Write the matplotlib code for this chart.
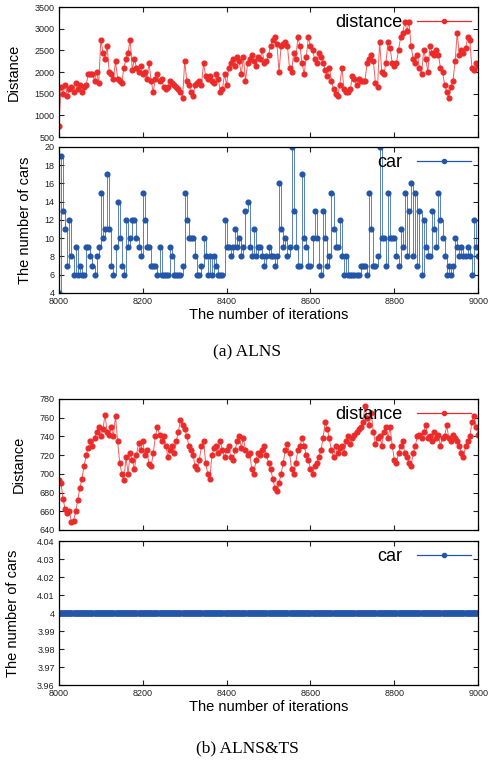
#Convergence plots of ALNS and ALNS&TS, iterations 8000-9000
#distance and number of cars, values read every 5 iterations

import numpy as np
import matplotlib
matplotlib.use('Agg')
import matplotlib.pyplot as plt
from matplotlib.ticker import FuncFormatter

iterations = np.arange(8000, 9001, 5)

distALNS = [750, 1650, 1500, 1700, 1450, 1600, 1650, 1550, 1750, 1600,
            1700, 1550, 1650, 1700, 1950, 1950, 1950, 1800, 2000, 1750,
            2750, 2450, 2300, 2600, 2000, 1950, 1850, 2250, 1850, 1800,
            1750, 2100, 2300, 2450, 2750, 2050, 2300, 2100, 2000, 2150,
            1950, 2000, 1850, 2200, 1800, 1530, 1850, 1950, 1800, 1850,
            1650, 1600, 1650, 1800, 1750, 1700, 1650, 1600, 1550, 1400,
            2250, 1800, 1700, 1550, 1450, 1700, 1750, 1800, 1700, 2200,
            1900, 1850, 1900, 1800, 1750, 1950, 1850, 1550, 1600, 1950,
            1700, 2100, 2200, 2300, 2150, 2350, 2250, 1950, 2350, 1800,
            2200, 2300, 2400, 2250, 2150, 2350, 2300, 2500, 2200, 2250,
            2400, 2600, 2750, 2800, 2650, 2000, 2600, 2650, 2700, 2600,
            2100, 2000, 2450, 2300, 2800, 2600, 2200, 1950, 2350, 2800,
            2600, 2500, 2300, 2200, 2450, 2350, 2200, 2050, 1900, 2100,
            1800, 1600, 1500, 1450, 1700, 2100, 1600, 1550, 1550, 1600,
            1900, 1850, 1700, 1850, 1800, 1800, 1800, 2200, 2300, 2400,
            2250, 1750, 1650, 2700, 2000, 1950, 2200, 2700, 2550, 2200,
            2150, 2200, 2500, 2800, 2900, 3150, 2950, 3150, 2600, 2300,
            2200, 2400, 2100, 1950, 2500, 2300, 2000, 2600, 2450, 2400,
            2500, 2400, 2100, 2000, 1700, 1550, 1400, 1650, 1800, 2250,
            2900, 2400, 2500, 2450, 2550, 2800, 2750, 2100, 2050, 2200,
            2150]

carsALNS = [4, 19, 13, 11, 7, 12, 8, 6, 9, 6,
            7, 6, 6, 9, 9, 8, 7, 6, 8, 9,
            15, 10, 11, 17, 11, 7, 6, 9, 14, 10,
            7, 6, 12, 9, 10, 12, 12, 10, 9, 8,
            15, 12, 9, 9, 7, 7, 7, 6, 9, 6,
            6, 6, 6, 9, 8, 6, 6, 6, 6, 7,
            15, 12, 10, 10, 10, 8, 6, 6, 7, 10,
            8, 6, 8, 6, 8, 7, 6, 6, 6, 12,
            9, 9, 8, 9, 11, 9, 10, 8, 9, 13,
            14, 9, 8, 11, 8, 9, 9, 8, 7, 8,
            9, 8, 8, 7, 8, 16, 11, 9, 10, 8,
            9, 20, 13, 9, 7, 7, 17, 10, 9, 7,
            7, 10, 13, 10, 7, 6, 13, 10, 7, 8,
            15, 11, 9, 9, 12, 8, 6, 8, 6, 6,
            6, 6, 6, 6, 7, 7, 7, 6, 15, 11,
            7, 7, 8, 20, 10, 10, 7, 15, 10, 10,
            10, 8, 7, 11, 9, 15, 8, 13, 16, 8,
            15, 7, 13, 6, 12, 9, 8, 8, 13, 11,
            9, 15, 12, 10, 8, 6, 7, 6, 7, 10,
            9, 8, 9, 8, 8, 9, 8, 6, 12, 9,
            8]

distTS = [693, 690, 673, 662, 658, 660, 648, 650, 660, 672,
          685, 695, 708, 720, 728, 735, 730, 738, 745, 750,
          740, 748, 763, 745, 742, 750, 740, 762, 735, 712,
          700, 693, 718, 700, 722, 715, 705, 720, 733, 725,
          735, 720, 725, 710, 708, 722, 740, 750, 742, 735,
          740, 730, 718, 725, 730, 722, 735, 745, 758, 752,
          748, 740, 730, 725, 720, 708, 705, 715, 730, 735,
          712, 700, 695, 720, 728, 730, 722, 735, 725, 718,
          725, 730, 718, 715, 725, 735, 740, 728, 738, 725,
          720, 722, 705, 700, 715, 722, 720, 725, 730, 720,
          712, 705, 695, 685, 682, 690, 700, 712, 725, 732,
          722, 705, 700, 712, 725, 730, 738, 730, 720, 715,
          705, 700, 708, 712, 718, 725, 738, 755, 748, 738,
          725, 718, 730, 722, 728, 730, 722, 735, 740, 732,
          738, 742, 745, 748, 750, 755, 772, 760, 752, 765,
          745, 732, 738, 740, 730, 745, 750, 738, 750, 730,
          715, 712, 722, 730, 735, 722, 718, 712, 708, 722,
          730, 740, 742, 738, 745, 752, 738, 740, 735, 745,
          738, 742, 730, 738, 740, 752, 738, 735, 742, 738,
          735, 730, 722, 718, 730, 735, 740, 755, 762, 750,
          742]

carsTS = [4] * 201

redCol = '#ec2a2a'
blueCol = '#2356a8'

plt.rcParams['font.family'] = ['Liberation Sans', 'DejaVu Sans']

def styleAxis(ax, yTicks, yLim, showXLabels, labelX, yLabel, fmt=None):
    ax.set_xlim(8000, 9000)
    ax.set_ylim(*yLim)
    ax.set_yticks(yTicks)
    ax.set_xticks([8000, 8200, 8400, 8600, 8800, 9000])
    ax.tick_params(direction='in', length=3.5, width=0.8, top=True, right=True,
                   labelsize=6.5, pad=3, colors='#222222')
    if not showXLabels:
        ax.tick_params(labelbottom=False)
    if fmt is not None:
        ax.yaxis.set_major_formatter(fmt)
    for sp in ax.spines.values():
        sp.set_linewidth(0.9)
    ax.set_ylabel(yLabel, fontsize=10.5)
    ax.yaxis.set_label_coords(labelX, 0.5)

def drawSeries(ax, xVals, yVals, col, label, steps=False, lw=0.7, ms=3.4):
    ds = 'steps-post' if steps else 'default'
    ax.plot(xVals, yVals, color=col, lw=lw, alpha=0.75, drawstyle=ds)
    ax.plot(xVals, yVals, color=col, lw=0, marker='o', ms=ms, mec=col)
    handle, = ax.plot([], [], color=col, lw=0.9, marker='o', ms=3, label=label)
    leg = ax.legend(handles=[handle], loc='upper right', frameon=False,
                    markerfirst=False, fontsize=13, handlelength=3.0,
                    borderaxespad=0.1, borderpad=0.3, handletextpad=0.8)
    return leg

fig = plt.figure(figsize=(4.95, 7.62), dpi=100)
left, width = 0.119, 0.847

ax1 = fig.add_axes([left, 0.8202, width, 0.1706])
drawSeries(ax1, iterations, distALNS, redCol, 'distance')
styleAxis(ax1, range(500, 3501, 500), (500, 3500), False, -0.09, 'Distance')

ax2 = fig.add_axes([left, 0.6155, width, 0.1916])
drawSeries(ax2, iterations, carsALNS, blueCol, 'car', steps=True)
styleAxis(ax2, range(4, 21, 2), (4, 20), True, -0.064, 'The number of cars')
ax2.set_xlabel('The number of iterations', fontsize=10.5, labelpad=1)

fig.text(0.5, 1 - 352 / 762, '(a) ALNS', ha='center', va='center',
         fontsize=12.5, family='Liberation Serif')

ax3 = fig.add_axes([left, 0.3045, width, 0.1719])
drawSeries(ax3, iterations, distTS, redCol, 'distance')
styleAxis(ax3, range(640, 781, 20), (640, 780), False, -0.079, 'Distance')

ax4 = fig.add_axes([left, 0.101, width, 0.189])
drawSeries(ax4, iterations, carsTS, blueCol, 'car', lw=3.8, ms=3.8)
styleAxis(ax4, [3.96, 3.97, 3.98, 3.99, 4.0, 4.01, 4.02, 4.03, 4.04], (3.96, 4.04),
          True, -0.093, 'The number of cars',
          fmt=FuncFormatter(lambda v, p: '%g' % round(v, 2)))
ax4.set_xlabel('The number of iterations', fontsize=10.5, labelpad=1)

fig.text(0.5, 1 - 748 / 762, '(b) ALNS&TS', ha='center', va='center',
         fontsize=12.5, family='Liberation Serif')

fig.savefig('out.png', dpi=100)
